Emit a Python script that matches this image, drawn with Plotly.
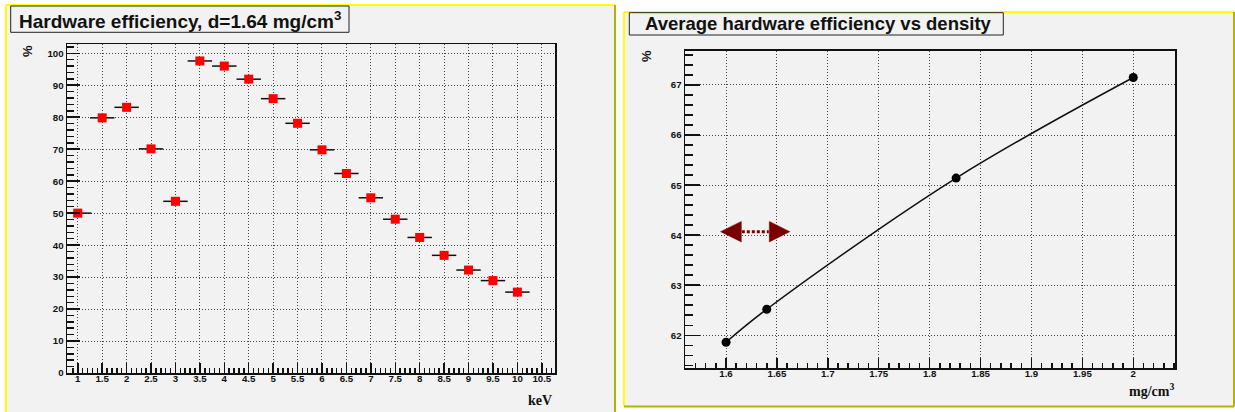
import plotly.graph_objects as go

# ---------------- data ----------------
energy_kev = [1, 1.5, 2, 2.5, 3, 3.5, 4, 4.5, 5, 5.5, 6, 6.5, 7, 7.5, 8, 8.5, 9, 9.5, 10]
hw_eff = [50.0, 79.8, 83.1, 70.1, 53.7, 97.6, 96.0, 91.9, 85.8, 78.1, 69.8, 62.4, 54.8,
          48.1, 42.4, 36.8, 32.2, 28.9, 25.3]
energy_err_plus = [0.28] + [0.25] * 18
energy_err_minus = [0.0] + [0.25] * 18

density = [1.60, 1.64, 1.826, 2.00]
avg_eff = [61.86, 62.52, 65.14, 67.15]

W, H = 1235, 412


def px(x):
    return x / W


def py(y):
    return 1 - y / H


TICKFONT = dict(family="Liberation Sans, Arial, sans-serif", size=9.7, color="#111", weight="bold")
GRID = dict(showgrid=True, gridcolor="#444", gridwidth=1, griddash="1px,2px")
AXLINE = dict(showline=True, linecolor="#111", linewidth=1.5, mirror=True, zeroline=False,
              ticks="inside", tickcolor="#111", tickwidth=1.5, tickfont=TICKFONT,
              automargin=False)

fig = go.Figure()

fig.add_trace(go.Scatter(
    x=energy_kev, y=hw_eff, mode="markers",
    marker=dict(symbol="square", size=9, color="#ff0000"),
    error_x=dict(type="data", symmetric=False, array=energy_err_plus,
                 arrayminus=energy_err_minus, color="#111", thickness=1.5, width=0),
    xaxis="x", yaxis="y", showlegend=False, cliponaxis=False,
))

fig.add_trace(go.Scatter(
    x=density, y=avg_eff, mode="lines+markers",
    line=dict(color="#111", width=1.5, shape="spline"),
    marker=dict(symbol="circle", size=9, color="#000"),
    xaxis="x2", yaxis="y2", showlegend=False,
))

fig.update_layout(
    width=W, height=H,
    margin=dict(l=0, r=0, t=0, b=0, autoexpand=False),
    paper_bgcolor="white",
    plot_bgcolor="#f2f2f2",
    xaxis=dict(domain=[px(67), px(555)], range=[0.78, 10.77], anchor="y",
               tick0=0, dtick=0.5, ticklen=10, ticklabelstandoff=-4,
               minor=dict(dtick=0.1, tick0=0, ticklen=5, ticks="inside", tickwidth=1.5,
                          tickcolor="#111", showgrid=False),
               **GRID, **AXLINE),
    yaxis=dict(domain=[py(373), py(44)], range=[0, 102.9], anchor="x",
               tick0=0, dtick=10, ticklen=13,
               minor=dict(dtick=2, tick0=0, ticklen=7, ticks="inside", tickwidth=1.5,
                          tickcolor="#111", showgrid=False),
               **GRID, **AXLINE),
    xaxis2=dict(domain=[px(685), px(1175)], range=[1.5597, 2.041], anchor="y2",
                tick0=0, dtick=0.05, ticklen=10, ticklabelstandoff=-4,
                minor=dict(dtick=0.01, tick0=0, ticklen=5, ticks="inside", tickwidth=1.5,
                           tickcolor="#111", showgrid=False),
                **GRID, **AXLINE),
    yaxis2=dict(domain=[py(368.3), py(50.7)], range=[61.34, 67.685], anchor="x2",
                tick0=0, dtick=1, ticklen=15,
                minor=dict(dtick=0.2, tick0=0, ticklen=8, ticks="inside", tickwidth=1.5,
                           tickcolor="#111", showgrid=False),
                **GRID, **AXLINE),
)

shapes = []
PANEL = "#f2f2f2"
YEL = "#ffff00"
OLIVE = "#b4b400"
# panel backgrounds
shapes.append(dict(type="rect", xref="paper", yref="paper", layer="below",
                   x0=px(6), x1=px(615), y0=py(430), y1=py(5),
                   fillcolor=PANEL, line=dict(width=0)))
shapes.append(dict(type="rect", xref="paper", yref="paper", layer="below",
                   x0=px(624), x1=px(1234), y0=py(406.5), y1=py(12),
                   fillcolor=PANEL, line=dict(width=0)))
# panel borders
for (x0, y0, x1, y1, c) in [
    (6, 5, 615, 5, YEL), (6, 5, 6, 430, YEL), (615, 5, 615, 430, OLIVE),
    (624, 12, 1234, 12, YEL), (624, 12, 624, 406.5, YEL),
    (1234, 12, 1234, 406.5, OLIVE), (624, 406.5, 1234, 406.5, OLIVE),
]:
    shapes.append(dict(type="line", xref="paper", yref="paper",
                       x0=px(x0), x1=px(x1), y0=py(y0), y1=py(y1),
                       line=dict(color=c, width=2)))
# title boxes
shapes.append(dict(type="rect", xref="paper", yref="paper",
                   x0=px(10.7), x1=px(349), y0=py(32.3), y1=py(6),
                   fillcolor=PANEL, line=dict(color="#222", width=1)))
shapes.append(dict(type="rect", xref="paper", yref="paper",
                   x0=px(629.3), x1=px(1003.3), y0=py(35), y1=py(12.7),
                   fillcolor=PANEL, line=dict(color="#222", width=1)))

# double arrow (dark red) on right panel
ARROW_C = "#7a0000"
ay, ah = 64.07, 0.205
shapes.append(dict(type="path", xref="x2", yref="y2",
                   path=f"M 1.5946 {ay} L 1.6150 {ay+ah} L 1.6150 {ay-ah} Z",
                   fillcolor=ARROW_C, line=dict(color=ARROW_C, width=0.5)))
shapes.append(dict(type="path", xref="x2", yref="y2",
                   path=f"M 1.6627 {ay} L 1.6425 {ay+ah} L 1.6425 {ay-ah} Z",
                   fillcolor=ARROW_C, line=dict(color=ARROW_C, width=0.5)))
shapes.append(dict(type="line", xref="x2", yref="y2",
                   x0=1.6155, x1=1.6420, y0=ay, y1=ay,
                   line=dict(color=ARROW_C, width=3, dash="3px,2px")))
fig.update_layout(shapes=shapes)

TFONT = dict(family="Liberation Sans, Arial, sans-serif", color="#111", weight="bold")
SERIF = dict(family="Liberation Serif, Times New Roman, serif", color="#111", weight="bold")
ann = [
    dict(text="Hardware efficiency, d=1.64 mg/cm<sup>3</sup>", x=px(16.5), y=py(19.5),
         xanchor="left", yanchor="middle", font=dict(size=19, **TFONT)),
    dict(text="Average hardware efficiency vs density", x=px(643), y=py(24),
         xanchor="left", yanchor="middle", font=dict(size=18.5, **TFONT)),
    dict(text="%", x=px(27), y=py(51), textangle=-90, xanchor="center", yanchor="middle",
         font=dict(size=13, **TFONT)),
    dict(text="%", x=px(647), y=py(56), textangle=-90, xanchor="center", yanchor="middle",
         font=dict(size=13, **TFONT)),
    dict(text="keV", x=px(554), y=py(400), xanchor="right", yanchor="middle",
         font=dict(size=14, **SERIF)),
    dict(text="mg/cm<sup>3</sup>", x=px(1176), y=py(390), xanchor="right", yanchor="middle",
         font=dict(size=14, **SERIF)),
]
for a in ann:
    a.update(xref="paper", yref="paper", showarrow=False)
fig.update_layout(annotations=ann)

fig.write_html("out.html", config={"displayModeBar": False, "staticPlot": True},
               post_script="document.body.style.margin='0';document.body.style.overflow='hidden';")
